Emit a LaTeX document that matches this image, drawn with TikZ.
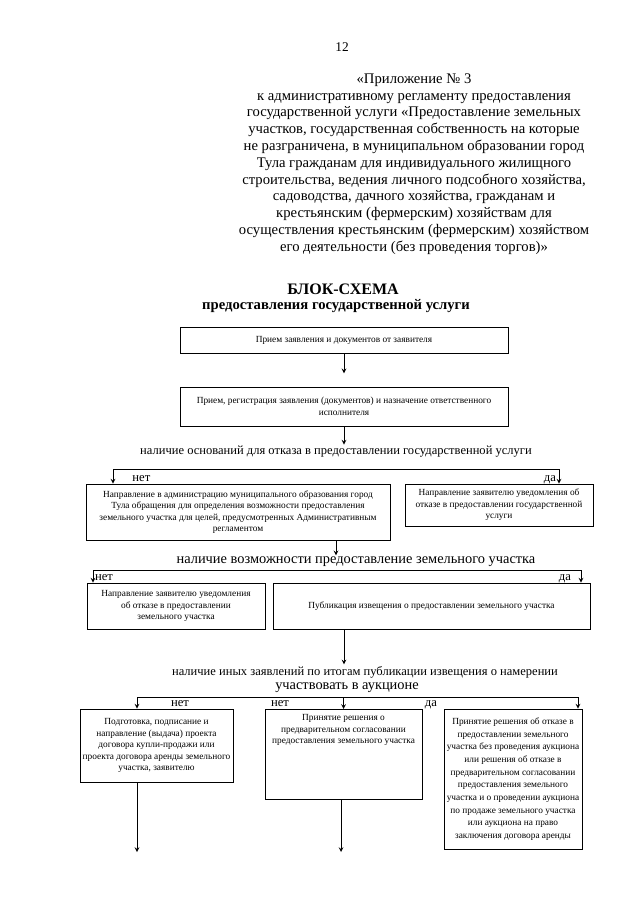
\documentclass[tikz,border=0pt]{standalone}
\usepackage{fontspec}
\setmainfont{Liberation Serif}
\begin{document}
\begin{tikzpicture}[x=0.75pt,y=-0.75pt,>=stealth,line width=0.6pt,
		box/.style={draw,align=center,inner sep=2pt,font=\fontsize{7}{8.6}\selectfont},
		ask/.style={align=center,inner sep=1pt,font=\fontsize{9.4}{12}\selectfont},
		ans/.style={inner sep=0pt,font=\fontsize{9.5}{11}\selectfont}]
	\useasboundingbox (0,0) rectangle (640,905);
	\node (page) at (342,47) {12};
	\node[align=center,font=\fontsize{11}{12.6}\selectfont] (head) at (414,164) {«Приложение № 3\\
		к административному регламенту предоставления\\
		государственной услуги «Предоставление земельных\\
		участков, государственная собственность на которые\\
		не разграничена, в муниципальном образовании город\\
		Тула гражданам для индивидуального жилищного\\
		строительства, ведения личного подсобного хозяйства,\\
		садоводства, дачного хозяйства, гражданам и\\
		крестьянским (фермерским) хозяйствам для\\
		осуществления крестьянским (фермерским) хозяйством\\
		его деятельности (без проведения торгов)»};
	\node[font=\bfseries\fontsize{12}{14}\selectfont] (title) at (343,289) {БЛОК-СХЕМА};
	\node[font=\bfseries\fontsize{11}{12}\selectfont] (subtitle) at (336,306) {предоставления государственной услуги};
	% first steps
	\node[box,minimum width=246pt,minimum height=19.5pt] (b1) at (344,340) {Прием заявления и документов от заявителя};
	\node[box,minimum width=246pt,minimum height=29.25pt] (b2) at (344,406.5) {Прием, регистрация заявления (документов) и назначение ответственного\\исполнителя};
	\draw[->,shorten >=10pt] (b1) -- (b2);
	\node[ask] (d1) at (336,452) {наличие оснований для отказа в предоставлении государственной услуги};
	\draw[->] (b2.south) -- (b2.south |- d1.north);
	\node[box,minimum width=228pt,minimum height=42pt] (b3) at (238,512) {Направление в администрацию муниципального образования город\\Тула обращения для определения возможности предоставления\\земельного участка для целей, предусмотренных Административным\\регламентом};
	\node[box,minimum width=141pt,minimum height=31.5pt] (b4) at (499,505) {Направление заявителю уведомления об\\отказе в предоставлении государственной\\услуги};
	\coordinate (s1a) at (113,469);
	\coordinate (s1b) at (559,469);
	\draw[<->] (b3.north -| s1a) -- (s1a) -- (s1b) -- (b4.north -| s1b);
	\node[ans,anchor=base west] (n1) at (132,481) {нет};
	\node[ans,anchor=base] (y1) at (550,481) {да};
	% land plot
	\node[ask,font=\fontsize{10.8}{12}\selectfont] (d2) at (356,562) {наличие возможности предоставление земельного участка};
	\draw[->] (b3.south -| d1) -- (d2.north -| d1);
	\node[box,minimum width=133.5pt,minimum height=34.5pt] (b5) at (176,606) {Направление заявителю уведомления\\об отказе в предоставлении\\земельного участка};
	\node[box,minimum width=237.75pt,minimum height=34.5pt] (b6) at (431.5,606) {Публикация извещения о предоставлении земельного участка};
	\coordinate (s2a) at (93,570);
	\coordinate (s2b) at (581,570);
	\draw[<->] (b5.north -| s2a) -- (s2a) -- (s2b) -- (b6.north -| s2b);
	\node[ans,anchor=base] (n2) at (104,580) {нет};
	\node[ans,anchor=base] (y2) at (565,580) {да};
	% auction
	\node[ask] (d3) at (365,672) {наличие иных заявлений по итогам публикации извещения о намерении};
	\node[ask,font=\fontsize{10.8}{12}\selectfont] (d3b) at (347,688) {участвовать в аукционе};
	\draw[->] (b6.south -| b2) -- (d3.north -| b2);
	\node[box,minimum width=99.75pt,minimum height=54.75pt] (b7) at (156.5,745.5) {Подготовка, подписание и\\направление (выдача) проекта\\договора купли-продажи или\\проекта договора аренды земельного\\участка, заявителю};
	\node[box,anchor=north,minimum width=117.75pt,inner ysep=4pt] (b8) at (343.5,709) {Принятие решения о\\предварительном согласовании\\предоставления земельного участка\rule[-38pt]{0pt}{38pt}};
	\node[box,minimum width=103.5pt,minimum height=105pt,font=\fontsize{7}{9.5}\selectfont] (b9) at (513,779) {Принятие решения об отказе в\\предоставлении земельного\\участка без проведения аукциона\\или решения об отказе в\\предварительном согласовании\\предоставления земельного\\участка и о проведении аукциона\\по продаже земельного участка\\или аукциона на право\\заключения договора аренды};
	\coordinate (s3a) at (137,697);
	\coordinate (s3b) at (578,697);
	\draw[<->] (b7.north -| s3a) -- (s3a) -- (s3b) -- (b9.north -| s3b);
	\draw[->] (b8.north |- s3a) -- (b8.north);
	\node[ans,anchor=base] (n3) at (180,706) {нет};
	\node[ans,anchor=base] (n4) at (280,706) {нет};
	\node[ans,anchor=base] (y3) at (431,706) {да};
	\coordinate (e1) at (137,852);
	\coordinate (e2) at (341,852);
	\draw[->] (b7.south -| e1) -- (e1);
	\draw[->] (b8.south -| e2) -- (e2);
\end{tikzpicture}
\end{document}
